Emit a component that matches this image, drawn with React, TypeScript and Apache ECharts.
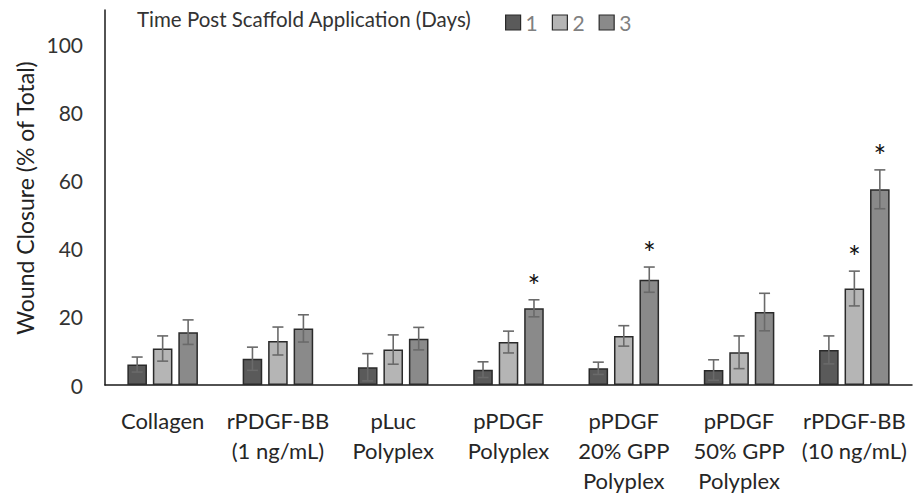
import React, { useEffect, useRef } from "react";
import * as echarts from "echarts";

const categories = [
  "Collagen",
  "rPDGF-BB\n(1 ng/mL)",
  "pLuc\nPolyplex",
  "pPDGF\nPolyplex",
  "pPDGF\n20% GPP\nPolyplex",
  "pPDGF\n50% GPP\nPolyplex",
  "rPDGF-BB\n(10 ng/mL)",
];
const seriesNames = ["1", "2", "3"];
const day1 = [6.0, 7.7, 5.2, 4.5, 4.9, 4.4, 10.3];
const day1Err = [2.2, 3.4, 4.0, 2.3, 1.8, 3.0, 4.1];
const day2 = [10.7, 12.9, 10.4, 12.6, 14.4, 9.6, 28.3];
const day2Err = [3.7, 4.1, 4.3, 3.2, 3.0, 4.8, 5.1];
const day3 = [15.5, 16.6, 13.6, 22.5, 30.9, 21.4, 57.4];
const day3Err = [3.6, 4.0, 3.3, 2.5, 3.7, 5.5, 5.7];
const day1Sig = [0, 0, 0, 0, 0, 0, 0];
const day2Sig = [0, 0, 0, 0, 0, 0, 1];
const day3Sig = [0, 0, 0, 1, 1, 0, 1];
const yTicks = [0, 20, 40, 60, 80, 100];

const FONT = "Lato, 'Open Sans', sans-serif";
const colors = ["#5a5a5a", "#b5b5b5", "#8a8a8a"];
const BAR_W = 0.17;
const BAR_GAP = 0.3;

export default function App() {
  const ref = useRef<HTMLDivElement>(null);
  useEffect(() => {
    if (!ref.current) return;
    const chart = echarts.init(ref.current, undefined, { renderer: "svg" });
    const values = [day1, day2, day3];
    const errs = [day1Err, day2Err, day3Err];
    const sigs = [day1Sig, day2Sig, day3Sig];

    const barSeries = values.map((v, i) => ({
      name: seriesNames[i],
      type: "bar",
      data: v,
      barWidth: BAR_W * 100 + "%",
      barGap: BAR_GAP * 100 + "%",
      itemStyle: { color: colors[i], borderColor: "#2a2a2a", borderWidth: 1.5 },
      z: 2,
    }));

    const errSeries = values.map((v, i) => ({
      type: "custom",
      name: "err" + i,
      data: v.map((val, k) => [k, val, errs[i][k], sigs[i][k]]),
      z: 5,
      silent: true,
      renderItem: (params: any, api: any) => {
        const k = api.value(0);
        const val = api.value(1);
        const e = api.value(2);
        const sig = api.value(3);
        const band = api.size([1, 0])[0];
        const w = band * BAR_W;
        const off = (i - 1) * w * (1 + BAR_GAP);
        const top = api.coord([k, val + e]);
        const bot = api.coord([k, val - e]);
        const x = top[0] + off;
        const cap = 5.5;
        const style = { stroke: "#6a6a6a", lineWidth: 1.6 };
        const children: any[] = [
          { type: "line", shape: { x1: x, y1: top[1], x2: x, y2: bot[1] }, style },
          { type: "line", shape: { x1: x - cap, y1: top[1], x2: x + cap, y2: top[1] }, style },
          { type: "line", shape: { x1: x - cap, y1: bot[1], x2: x + cap, y2: bot[1] }, style },
        ];
        if (sig) {
          children.push({
            type: "text",
            style: {
              text: "*",
              x: x,
              y: top[1] - 15,
              textAlign: "center",
              textVerticalAlign: "middle",
              fontSize: 30,
              fontFamily: FONT,
              fill: "#111",
            },
          });
        }
        return { type: "group", children };
      },
    }));

    chart.setOption({
      animation: false,
      grid: { left: 105, right: 2, top: 10, bottom: 111, containLabel: false },
      legend: {
        data: seriesNames,
        icon: "rect",
        left: 500,
        top: 7,
        itemWidth: 15,
        itemHeight: 15,
        itemGap: 14,
        textStyle: { fontSize: 21, fontFamily: FONT, color: "#808080" },
        itemStyle: { borderColor: "#2a2a2a", borderWidth: 1.2 },
      },
      graphic: [
        {
          type: "text",
          x: 137,
          y: 19,
          style: {
            text: "Time Post Scaffold Application (Days)",
            fontSize: 20.5,
            fontFamily: FONT,
            fill: "#333",
            textVerticalAlign: "middle",
          },
        },
        {
          type: "text",
          x: 25,
          y: 198,
          rotation: Math.PI / 2,
          style: {
            text: "Wound Closure (% of Total)",
            fontSize: 23,
            fontFamily: FONT,
            fill: "#222",
            textAlign: "center",
            textVerticalAlign: "middle",
          },
        },
      ],
      xAxis: {
        type: "category",
        data: categories,
        axisLine: { lineStyle: { color: "#1a1a1a", width: 1.5 } },
        axisTick: { show: false },
        axisLabel: {
          margin: 20,
          fontSize: 22,
          lineHeight: 30,
          fontFamily: FONT,
          color: "#262626",
          interval: 0,
        },
      },
      yAxis: {
        type: "value",
        min: 0,
        max: 110,
        interval: 20,
        axisLine: { show: true, lineStyle: { color: "#1a1a1a", width: 1.5 } },
        axisTick: { show: false },
        splitLine: { show: false },
        axisLabel: {
          showMaxLabel: false,
          margin: 22,
          fontSize: 21,
          fontFamily: FONT,
          color: "#333",
          formatter: (v: number) => (yTicks.indexOf(v) >= 0 ? String(v) : ""),
        },
      },
      series: [...barSeries, ...errSeries],
    });
    return () => chart.dispose();
  }, []);
  return (
    <div
      ref={ref}
      style={{ position: "fixed", left: 0, top: 0, width: 914, height: 496, background: "#fff" }}
    />
  );
}
